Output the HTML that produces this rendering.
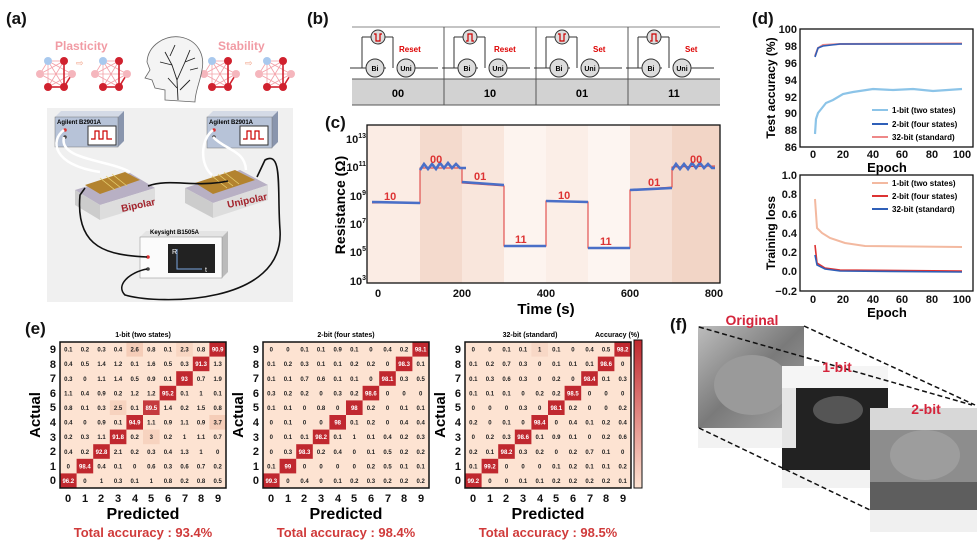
<!DOCTYPE html>
<html><head><meta charset="utf-8"><style>
html,body{margin:0;padding:0;background:#fff;}
svg{display:block;font-family:"Liberation Sans",Arial,sans-serif;}
.m text{font-size:6px;font-weight:bold;text-anchor:middle;fill:#222;}
.m text.w{fill:#fff;}
.tk{font-size:11px;font-weight:bold;fill:#111;}
.lb{font-size:17px;font-weight:bold;fill:#111;}
</style></head><body>
<svg width="980" height="543" viewBox="0 0 980 543" xmlns="http://www.w3.org/2000/svg">
<defs>
<g id="net">
<g stroke="#f3a0a8" stroke-width="0.8">
<line x1="0" y1="0" x2="16" y2="0"/><line x1="0" y1="0" x2="-8" y2="13"/><line x1="0" y1="0" x2="24" y2="13"/><line x1="0" y1="0" x2="0" y2="26"/><line x1="0" y1="0" x2="16" y2="26"/><line x1="16" y1="0" x2="-8" y2="13"/><line x1="16" y1="0" x2="0" y2="26"/><line x1="-8" y1="13" x2="24" y2="13"/><line x1="-8" y1="13" x2="16" y2="26"/><line x1="24" y1="13" x2="0" y2="26"/><line x1="0" y1="26" x2="16" y2="26"/>
</g>
<g stroke="#d0212e" stroke-width="1.6"><line x1="16" y1="0" x2="16" y2="26"/><line x1="24" y1="13" x2="16" y2="26"/><line x1="0" y1="26" x2="16" y2="26"/></g>
<circle cx="0" cy="0" r="4" fill="#a9c9ee"/><circle cx="16" cy="0" r="4" fill="#d0212e"/><circle cx="-8" cy="13" r="4" fill="#f5b6bd"/><circle cx="24" cy="13" r="4" fill="#f5b6bd"/><circle cx="0" cy="26" r="4" fill="#d0212e"/><circle cx="16" cy="26" r="4" fill="#d0212e"/>
</g>
<g id="cell">
<line x1="-40" y1="68" x2="-4" y2="68" stroke="#333" stroke-width="1"/>
<line x1="-28" y1="37" x2="-28" y2="68" stroke="#333"/><line x1="-28" y1="37" x2="3" y2="37" stroke="#333"/><line x1="3" y1="37" x2="3" y2="68" stroke="#333"/>
<circle cx="-12" cy="37" r="7" fill="#ddd" stroke="#333"/>
<circle cx="-15" cy="68" r="9" fill="#ddd" stroke="#333"/>
<circle cx="16" cy="68" r="9" fill="#ddd" stroke="#333"/>
<line x1="25" y1="68" x2="48" y2="68" stroke="#333"/>
<text x="-15" y="71" font-size="7" font-weight="bold" text-anchor="middle">Bi</text>
<text x="16" y="71" font-size="7" font-weight="bold" text-anchor="middle">Uni</text>
</g>
</defs>

<!-- (a) -->
<text x="6" y="24" class="lb">(a)</text>
<text x="55" y="50" font-size="12" font-weight="bold" fill="#f19ba4">Plasticity</text>
<text x="218" y="50" font-size="12" font-weight="bold" fill="#f19ba4">Stability</text>
<use href="#net" x="48" y="61"/><use href="#net" x="103" y="61"/><use href="#net" x="212" y="61"/><use href="#net" x="267" y="61"/>
<text x="76" y="66" font-size="9" fill="#f3a58a">⇨</text><text x="245" y="66" font-size="9" fill="#f3a58a">⇨</text>
<path d="M165 100 L165 90 L155 88 L152 80 L145 78 L150 70 L147 62 C148 45 165 35 180 37 C198 40 205 55 202 70 C200 82 195 92 195 102 Z" fill="#f4f4f4" stroke="#666" stroke-width="0.8"/>
<path d="M178 100 L177 80 L172 65 L165 52 M177 80 L185 62 L190 50 M172 65 L160 62 M185 62 L195 58 M177 88 L168 78 M180 90 L190 80 M170 56 L175 45 M190 70 L198 68" stroke="#222" fill="none" stroke-width="0.9"/>
<rect x="47" y="108" width="246" height="194" fill="#f0f0f0"/>
<polygon points="55,117 118,117 124,111 61,111" fill="#d4dae6"/><polygon points="118,117 124,111 124,141 118,147" fill="#8995ad"/>
<rect x="55" y="117" width="63" height="30" fill="#b7c3d8" stroke="#777" stroke-width="0.5"/>
<text x="57" y="124" font-size="6" font-weight="bold">Agilent B2901A</text>
<rect x="88" y="126" width="28" height="19" fill="#fff" stroke="#333"/><path d="M91 139 h4 v-8 h4 v8 h4 v-8 h4 v8 h5" stroke="#c00" fill="none" stroke-width="1.2"/>
<circle cx="65" cy="130" r="1.8" fill="#d33"/><circle cx="65" cy="137" r="1.8" fill="#444"/>
<polygon points="207,117 272,117 278,111 213,111" fill="#d4dae6"/><polygon points="272,117 278,111 278,142 272,148" fill="#8995ad"/>
<rect x="207" y="117" width="65" height="31" fill="#b7c3d8" stroke="#777" stroke-width="0.5"/>
<text x="209" y="124" font-size="6" font-weight="bold">Agilent B2901A</text>
<rect x="240" y="126" width="28" height="19" fill="#fff" stroke="#333"/><path d="M243 139 h4 v-8 h4 v8 h4 v-8 h4 v8 h5" stroke="#c00" fill="none" stroke-width="1.2"/>
<circle cx="214" cy="130" r="1.8" fill="#d33"/><circle cx="214" cy="137" r="1.8" fill="#444"/>
<g stroke="#fff" stroke-width="2.5" fill="none"><path d="M64 130 C50 140 52 165 100 172"/><path d="M64 137 C58 160 110 160 130 172"/><path d="M213 130 C200 140 200 165 212 175"/><path d="M213 137 C225 150 245 150 246 170"/></g>
<!-- devices -->
<polygon points="75,190 130,173 155,188 100,205" fill="#b8b0c4"/><polygon points="75,190 100,205 100,220 75,205" fill="#ccc"/><polygon points="100,205 155,188 155,203 100,220" fill="#ddd"/>
<polygon points="85,185 125,172 140,180 100,194" fill="#b3832f"/>
<g stroke="#e8d070" stroke-width="0.8"><line x1="100" y1="178" x2="115" y2="190"/><line x1="106" y1="176" x2="121" y2="188"/><line x1="112" y1="174" x2="127" y2="186"/></g>
<text x="122" y="212" font-size="10" font-weight="bold" fill="#a3232c" transform="rotate(-12 122 212)">Bipolar</text>
<polygon points="185,188 240,170 268,185 213,203" fill="#b8b0c4"/><polygon points="185,188 213,203 213,218 185,203" fill="#ccc"/><polygon points="213,203 268,185 268,200 213,218" fill="#ddd"/>
<polygon points="195,183 235,170 255,180 213,194" fill="#b3832f"/>
<g stroke="#e8d070" stroke-width="0.8"><line x1="212" y1="176" x2="227" y2="188"/><line x1="218" y1="174" x2="233" y2="186"/><line x1="224" y1="172" x2="239" y2="184"/></g>
<text x="228" y="208" font-size="10" font-weight="bold" fill="#a3232c" transform="rotate(-12 228 208)">Unipolar</text>
<polygon points="140,237 222,237 228,231 146,231" fill="#e4e4e4"/><polygon points="222,237 228,231 228,272 222,278" fill="#bbb"/>
<rect x="140" y="237" width="82" height="41" fill="#fbfbfb" stroke="#888" stroke-width="0.5"/>
<text x="150" y="234" font-size="6" font-weight="bold">Keysight B1505A</text>
<rect x="168" y="244" width="47" height="29" fill="#222"/><text x="172" y="254" font-size="7" fill="#fff">R</text><path d="M177 249 v20 h25" stroke="#7aa5e0" fill="none"/><text x="205" y="272" font-size="7" fill="#fff">t</text>
<circle cx="148" cy="257" r="1.8" fill="#d33"/><circle cx="148" cy="269" r="1.8" fill="#444"/>
<path d="M147 257 C110 255 75 250 80 195 L85 188" stroke="#111" stroke-width="1.6" fill="none"/>
<path d="M147 269 C130 272 115 285 125 295 C160 305 285 305 280 230 C277 190 283 150 265 160 L257 177" stroke="#111" stroke-width="1.6" fill="none"/>
<path d="M148 186 C170 178 195 188 228 181" stroke="#111" stroke-width="1.6" fill="none"/>

<!-- (b) -->
<text x="307" y="24" class="lb">(b)</text>
<line x1="352" y1="27" x2="720" y2="27" stroke="#888"/>
<rect x="352" y="79" width="368" height="26" fill="#d2d2d2"/>
<line x1="352" y1="79" x2="720" y2="79" stroke="#555"/><line x1="352" y1="105" x2="720" y2="105" stroke="#555"/>
<g stroke="#555"><line x1="444" y1="27" x2="444" y2="105"/><line x1="536" y1="27" x2="536" y2="105"/><line x1="628" y1="27" x2="628" y2="105"/></g>
<use href="#cell" x="390" y="0"/><use href="#cell" x="482" y="0"/><use href="#cell" x="574" y="0"/><use href="#cell" x="666" y="0"/>
<g stroke="#c00" stroke-width="1.2" fill="none">
<path d="M374 34 h2 v7 h4 v-7 h2"/><path d="M466 41 h2 v-7 h4 v7 h2"/><path d="M558 34 h2 v7 h4 v-7 h2"/><path d="M650 41 h2 v-7 h4 v7 h2"/></g>
<g font-size="8" font-weight="bold" fill="#d00"><text x="399" y="52">Reset</text><text x="494" y="52">Reset</text><text x="593" y="52">Set</text><text x="685" y="52">Set</text></g>
<g font-size="11" font-weight="bold" text-anchor="middle"><text x="398" y="97">00</text><text x="490" y="97">10</text><text x="582" y="97">01</text><text x="674" y="97">11</text></g>

<!-- (c) -->
<text x="325" y="128" class="lb">(c)</text>
<rect x="378" y="125" width="42" height="158" fill="#fbece4"/>
<rect x="420" y="125" width="42" height="158" fill="#f4dacd"/>
<rect x="462" y="125" width="42" height="158" fill="#f9e6dc"/>
<rect x="504" y="125" width="42" height="158" fill="#fdf4ef"/>
<rect x="546" y="125" width="42" height="158" fill="#fbeee7"/>
<rect x="588" y="125" width="42" height="158" fill="#fdf5f1"/>
<rect x="630" y="125" width="42" height="158" fill="#f6e0d5"/>
<rect x="672" y="125" width="48" height="158" fill="#f2d5c6"/>
<rect x="367" y="125" width="11" height="158" fill="#fbece4"/>
<rect x="367" y="125" width="353" height="158" fill="none" stroke="#111" stroke-width="1.3"/>
<path d="M372 203 L420 203 L420 168 L462 168 L462 183 L504 186 L504 246 L546 246 L546 201 L588 202 L588 248 L630 248 L630 190 L672 187 L672 167 L715 166" stroke="#d33" fill="none" stroke-width="1"/>
<g stroke="#4a6fc7" stroke-width="2.6" fill="none">
<path d="M372 202 L420 203"/><path d="M420 170 l4 -6 l4 5 l4 -5 l4 5 l4 -6 l4 5 l4 -5 l4 5 l4 -4 l4 4 l6 0"/><path d="M462 182 L504 185"/><path d="M504 246 L546 246"/><path d="M546 201 L588 202"/><path d="M588 248 L630 248"/><path d="M630 190 L672 188"/><path d="M672 170 l4 -6 l4 5 l4 -5 l4 5 l4 -6 l4 5 l4 -5 l4 5 l4 -4 l4 4 l3 0"/></g>
<g font-size="11" font-weight="bold" fill="#d33"><text x="384" y="200">10</text><text x="430" y="163">00</text><text x="474" y="180">01</text><text x="515" y="243">11</text><text x="558" y="199">10</text><text x="600" y="245">11</text><text x="648" y="186">01</text><text x="690" y="163">00</text></g>
<g class="tk" text-anchor="end"><text x="366" y="143">10<tspan font-size="7" dy="-5">13</tspan></text><text x="366" y="171">10<tspan font-size="7" dy="-5">11</tspan></text><text x="366" y="200">10<tspan font-size="7" dy="-5">9</tspan></text><text x="366" y="228">10<tspan font-size="7" dy="-5">7</tspan></text><text x="366" y="256">10<tspan font-size="7" dy="-5">5</tspan></text><text x="366" y="285">10<tspan font-size="7" dy="-5">3</tspan></text></g>
<g class="tk" text-anchor="middle"><text x="378" y="297">0</text><text x="462" y="297">200</text><text x="546" y="297">400</text><text x="630" y="297">600</text><text x="714" y="297">800</text></g>
<text x="546" y="314" font-size="15" font-weight="bold" text-anchor="middle">Time (s)</text>
<text x="345" y="205" font-size="14" font-weight="bold" text-anchor="middle" transform="rotate(-90 345 205)">Resistance (Ω)</text>

<!-- (d) -->
<text x="752" y="24" class="lb">(d)</text>
<rect x="800" y="29" width="173" height="118" fill="#fff" stroke="#111" stroke-width="1.3"/>
<g class="tk" font-size="9" text-anchor="end"><text x="797" y="33">100</text><text x="797" y="50">98</text><text x="797" y="67">96</text><text x="797" y="84">94</text><text x="797" y="101">92</text><text x="797" y="117">90</text><text x="797" y="134">88</text><text x="797" y="151">86</text></g>
<g class="tk" font-size="9" text-anchor="middle"><text x="813" y="158">0</text><text x="843" y="158">20</text><text x="873" y="158">40</text><text x="902" y="158">60</text><text x="932" y="158">80</text><text x="962" y="158">100</text></g>
<text x="887" y="172" font-size="13" font-weight="bold" text-anchor="middle">Epoch</text>
<text x="775" y="88" font-size="12" font-weight="bold" text-anchor="middle" transform="rotate(-90 775 88)">Test accuracy (%)</text>
<path d="M815 134 L816 119 L818 113 L822 108 L826 103 L833 100 L843 94 L853 92 L873 89 L893 90 L913 89 L933 91 L962 89" stroke="#8cc4e8" stroke-width="2.2" fill="none"/>
<path d="M815 56 L818 48 L823 45 L840 44 L962 43.5" stroke="#e88" stroke-width="2" fill="none"/>
<path d="M815 57 L818 48 L823 46 L840 44 L962 44" stroke="#2f5fb8" stroke-width="1.6" fill="none"/>
<g font-size="8" font-weight="bold"><line x1="872" y1="110" x2="888" y2="110" stroke="#8cc4e8" stroke-width="2"/><text x="892" y="113">1-bit (two states)</text><line x1="872" y1="124" x2="888" y2="124" stroke="#2f5fb8" stroke-width="2"/><text x="892" y="127">2-bit (four states)</text><line x1="872" y1="137" x2="888" y2="137" stroke="#e88" stroke-width="2"/><text x="892" y="140">32-bit (standard)</text></g>
<rect x="800" y="175" width="173" height="116" fill="#fff" stroke="#111" stroke-width="1.3"/>
<g class="tk" font-size="9" text-anchor="end"><text x="797" y="179">1.0</text><text x="797" y="198">0.8</text><text x="797" y="218">0.6</text><text x="797" y="237">0.4</text><text x="797" y="256">0.2</text><text x="797" y="275">0.0</text><text x="797" y="295">−0.2</text></g>
<g class="tk" font-size="9" text-anchor="middle"><text x="813" y="303">0</text><text x="843" y="303">20</text><text x="873" y="303">40</text><text x="902" y="303">60</text><text x="932" y="303">80</text><text x="962" y="303">100</text></g>
<text x="887" y="317" font-size="13" font-weight="bold" text-anchor="middle">Epoch</text>
<text x="775" y="233" font-size="12" font-weight="bold" text-anchor="middle" transform="rotate(-90 775 233)">Training loss</text>
<path d="M815 199 L817 228 L822 233 L830 238 L845 243 L865 246 L962 247" stroke="#f3b9a0" stroke-width="2" fill="none"/>
<path d="M815 245 L817 263 L825 268 L840 270 L962 271" stroke="#d33" stroke-width="1.6" fill="none"/>
<path d="M815 255 L817 265 L825 269 L840 271 L962 272" stroke="#2f5fb8" stroke-width="1.6" fill="none"/>
<g font-size="8" font-weight="bold"><line x1="872" y1="183" x2="888" y2="183" stroke="#f3b9a0" stroke-width="2"/><text x="892" y="186">1-bit (two states)</text><line x1="872" y1="196" x2="888" y2="196" stroke="#d33" stroke-width="2"/><text x="892" y="199">2-bit (four states)</text><line x1="872" y1="209" x2="888" y2="209" stroke="#2f5fb8" stroke-width="2"/><text x="892" y="212">32-bit (standard)</text></g>

<!-- (e) -->
<text x="25" y="334" class="lb">(e)</text>
<text x="143" y="337" font-size="7" font-weight="bold" text-anchor="middle">1-bit (two states)</text>
<text x="346" y="337" font-size="7" font-weight="bold" text-anchor="middle">2-bit (four states)</text>
<text x="530" y="337" font-size="7" font-weight="bold" text-anchor="middle">32-bit (standard)</text>
<text x="595" y="337" font-size="7" font-weight="bold">Accuracy (%)</text>
<defs><linearGradient id="cb" x1="0" y1="0" x2="0" y2="1"><stop offset="0" stop-color="#c0282f"/><stop offset="0.6" stop-color="#e79a92"/><stop offset="1" stop-color="#fde3d2"/></linearGradient></defs>
<rect x="634" y="340" width="8" height="148" fill="url(#cb)" stroke="#111"/>

<!-- M1 -->
<g class="m" transform="translate(60,342)">
<rect width="166" height="146" fill="#fde3d2"/>
<rect x="66.4" y="0" width="16.6" height="14.6" fill="#f5cdb8"/><rect x="116.2" y="0" width="16.6" height="14.6" fill="#f8d6c2"/><rect x="149.4" y="73" width="16.6" height="14.6" fill="#f5cdb8"/><rect x="49.8" y="58.4" width="16.6" height="14.6" fill="#f7d3bf"/><rect x="83" y="87.6" width="16.6" height="14.6" fill="#f7d3bf"/>
<rect x="149.4" y="0" width="16.6" height="14.6" fill="#c0282f"/><rect x="132.8" y="14.6" width="16.6" height="14.6" fill="#c0282f"/><rect x="116.2" y="29.2" width="16.6" height="14.6" fill="#c0282f"/><rect x="99.6" y="43.8" width="16.6" height="14.6" fill="#c0282f"/><rect x="83" y="58.4" width="16.6" height="14.6" fill="#c53a3f"/><rect x="66.4" y="73" width="16.6" height="14.6" fill="#c0282f"/><rect x="49.8" y="87.6" width="16.6" height="14.6" fill="#c0282f"/><rect x="33.2" y="102.2" width="16.6" height="14.6" fill="#c0282f"/><rect x="16.6" y="116.8" width="16.6" height="14.6" fill="#c0282f"/><rect x="0" y="131.4" width="16.6" height="14.6" fill="#c0282f"/>
<rect width="166" height="146" fill="none" stroke="#111" stroke-width="1.5"/>
<g transform="translate(0,9.6)"><text x="8.3">0.1</text><text x="24.9">0.2</text><text x="41.5">0.3</text><text x="58.1">0.4</text><text x="74.7">2.6</text><text x="91.3">0.8</text><text x="107.9">0.1</text><text x="124.5">2.3</text><text x="141.1">0.8</text><text x="157.7" class="w">90.9</text></g>
<g transform="translate(0,24.2)"><text x="8.3">0.4</text><text x="24.9">0.5</text><text x="41.5">1.4</text><text x="58.1">1.2</text><text x="74.7">0.1</text><text x="91.3">1.6</text><text x="107.9">0.5</text><text x="124.5">0.3</text><text x="141.1" class="w">91.3</text><text x="157.7">1.3</text></g>
<g transform="translate(0,38.8)"><text x="8.3">0.3</text><text x="24.9">0</text><text x="41.5">1.1</text><text x="58.1">1.4</text><text x="74.7">0.5</text><text x="91.3">0.9</text><text x="107.9">0.1</text><text x="124.5" class="w">93</text><text x="141.1">0.7</text><text x="157.7">1.9</text></g>
<g transform="translate(0,53.4)"><text x="8.3">1.1</text><text x="24.9">0.4</text><text x="41.5">0.9</text><text x="58.1">0.2</text><text x="74.7">1.2</text><text x="91.3">1.2</text><text x="107.9" class="w">95.2</text><text x="124.5">0.1</text><text x="141.1">1</text><text x="157.7">0.1</text></g>
<g transform="translate(0,68)"><text x="8.3">0.8</text><text x="24.9">0.1</text><text x="41.5">0.3</text><text x="58.1">2.5</text><text x="74.7">0.1</text><text x="91.3" class="w">89.5</text><text x="107.9">1.4</text><text x="124.5">0.2</text><text x="141.1">1.5</text><text x="157.7">0.8</text></g>
<g transform="translate(0,82.6)"><text x="8.3">0.4</text><text x="24.9">0</text><text x="41.5">0.9</text><text x="58.1">0.1</text><text x="74.7" class="w">94.9</text><text x="91.3">1.1</text><text x="107.9">0.9</text><text x="124.5">1.1</text><text x="141.1">0.9</text><text x="157.7">3.7</text></g>
<g transform="translate(0,97.2)"><text x="8.3">0.2</text><text x="24.9">0.3</text><text x="41.5">1.1</text><text x="58.1" class="w">91.8</text><text x="74.7">0.2</text><text x="91.3">3</text><text x="107.9">0.2</text><text x="124.5">1</text><text x="141.1">1.1</text><text x="157.7">0.7</text></g>
<g transform="translate(0,111.8)"><text x="8.3">0.4</text><text x="24.9">0.2</text><text x="41.5" class="w">92.8</text><text x="58.1">2.1</text><text x="74.7">0.2</text><text x="91.3">0.3</text><text x="107.9">0.4</text><text x="124.5">1.3</text><text x="141.1">1</text><text x="157.7">0</text></g>
<g transform="translate(0,126.4)"><text x="8.3">0</text><text x="24.9" class="w">98.4</text><text x="41.5">0.4</text><text x="58.1">0.1</text><text x="74.7">0</text><text x="91.3">0.6</text><text x="107.9">0.3</text><text x="124.5">0.6</text><text x="141.1">0.7</text><text x="157.7">0.2</text></g>
<g transform="translate(0,141)"><text x="8.3" class="w">96.2</text><text x="24.9">0</text><text x="41.5">1</text><text x="58.1">0.3</text><text x="74.7">0.1</text><text x="91.3">1</text><text x="107.9">0.8</text><text x="124.5">0.2</text><text x="141.1">0.8</text><text x="157.7">0.5</text></g>
</g>

<!-- M2 -->
<g class="m" transform="translate(263,342)">
<rect width="166" height="146" fill="#fde3d2"/>
<rect x="149.4" y="0" width="16.6" height="14.6" fill="#c0282f"/><rect x="132.8" y="14.6" width="16.6" height="14.6" fill="#c0282f"/><rect x="116.2" y="29.2" width="16.6" height="14.6" fill="#c0282f"/><rect x="99.6" y="43.8" width="16.6" height="14.6" fill="#c0282f"/><rect x="83" y="58.4" width="16.6" height="14.6" fill="#c0282f"/><rect x="66.4" y="73" width="16.6" height="14.6" fill="#c0282f"/><rect x="49.8" y="87.6" width="16.6" height="14.6" fill="#c0282f"/><rect x="33.2" y="102.2" width="16.6" height="14.6" fill="#c0282f"/><rect x="16.6" y="116.8" width="16.6" height="14.6" fill="#c0282f"/><rect x="0" y="131.4" width="16.6" height="14.6" fill="#c0282f"/>
<rect width="166" height="146" fill="none" stroke="#111" stroke-width="1.5"/>
<g transform="translate(0,9.6)"><text x="8.3">0</text><text x="24.9">0</text><text x="41.5">0.1</text><text x="58.1">0.1</text><text x="74.7">0.9</text><text x="91.3">0.1</text><text x="107.9">0</text><text x="124.5">0.4</text><text x="141.1">0.2</text><text x="157.7" class="w">98.1</text></g>
<g transform="translate(0,24.2)"><text x="8.3">0.1</text><text x="24.9">0.2</text><text x="41.5">0.3</text><text x="58.1">0.1</text><text x="74.7">0.1</text><text x="91.3">0.2</text><text x="107.9">0.2</text><text x="124.5">0</text><text x="141.1" class="w">98.3</text><text x="157.7">0.1</text></g>
<g transform="translate(0,38.8)"><text x="8.3">0.1</text><text x="24.9">0.1</text><text x="41.5">0.7</text><text x="58.1">0.6</text><text x="74.7">0.1</text><text x="91.3">0.1</text><text x="107.9">0</text><text x="124.5" class="w">98.1</text><text x="141.1">0.3</text><text x="157.7">0.5</text></g>
<g transform="translate(0,53.4)"><text x="8.3">0.3</text><text x="24.9">0.2</text><text x="41.5">0.2</text><text x="58.1">0</text><text x="74.7">0.3</text><text x="91.3">0.2</text><text x="107.9" class="w">98.6</text><text x="124.5">0</text><text x="141.1">0</text><text x="157.7">0</text></g>
<g transform="translate(0,68)"><text x="8.3">0.1</text><text x="24.9">0.1</text><text x="41.5">0</text><text x="58.1">0.8</text><text x="74.7">0</text><text x="91.3" class="w">98</text><text x="107.9">0.2</text><text x="124.5">0</text><text x="141.1">0.1</text><text x="157.7">0.1</text></g>
<g transform="translate(0,82.6)"><text x="8.3">0</text><text x="24.9">0.1</text><text x="41.5">0</text><text x="58.1">0</text><text x="74.7" class="w">98</text><text x="91.3">0.1</text><text x="107.9">0.2</text><text x="124.5">0</text><text x="141.1">0.4</text><text x="157.7">0.4</text></g>
<g transform="translate(0,97.2)"><text x="8.3">0</text><text x="24.9">0.1</text><text x="41.5">0.1</text><text x="58.1" class="w">98.2</text><text x="74.7">0.1</text><text x="91.3">1</text><text x="107.9">0.1</text><text x="124.5">0.4</text><text x="141.1">0.2</text><text x="157.7">0.3</text></g>
<g transform="translate(0,111.8)"><text x="8.3">0</text><text x="24.9">0.3</text><text x="41.5" class="w">98.3</text><text x="58.1">0.2</text><text x="74.7">0.4</text><text x="91.3">0</text><text x="107.9">0.1</text><text x="124.5">0.5</text><text x="141.1">0.2</text><text x="157.7">0.2</text></g>
<g transform="translate(0,126.4)"><text x="8.3">0.1</text><text x="24.9" class="w">99</text><text x="41.5">0</text><text x="58.1">0</text><text x="74.7">0</text><text x="91.3">0</text><text x="107.9">0.2</text><text x="124.5">0.5</text><text x="141.1">0.1</text><text x="157.7">0.1</text></g>
<g transform="translate(0,141)"><text x="8.3" class="w">99.3</text><text x="24.9">0</text><text x="41.5">0.4</text><text x="58.1">0</text><text x="74.7">0.1</text><text x="91.3">0.2</text><text x="107.9">0.3</text><text x="124.5">0.2</text><text x="141.1">0.2</text><text x="157.7">0.2</text></g>
</g>

<!-- M3 -->
<g class="m" transform="translate(465,342)">
<rect width="166" height="146" fill="#fde3d2"/>
<rect x="66.4" y="0" width="16.6" height="14.6" fill="#f8d8c6"/>
<rect x="149.4" y="0" width="16.6" height="14.6" fill="#c0282f"/><rect x="132.8" y="14.6" width="16.6" height="14.6" fill="#c0282f"/><rect x="116.2" y="29.2" width="16.6" height="14.6" fill="#c0282f"/><rect x="99.6" y="43.8" width="16.6" height="14.6" fill="#c0282f"/><rect x="83" y="58.4" width="16.6" height="14.6" fill="#c0282f"/><rect x="66.4" y="73" width="16.6" height="14.6" fill="#c0282f"/><rect x="49.8" y="87.6" width="16.6" height="14.6" fill="#c0282f"/><rect x="33.2" y="102.2" width="16.6" height="14.6" fill="#c0282f"/><rect x="16.6" y="116.8" width="16.6" height="14.6" fill="#c0282f"/><rect x="0" y="131.4" width="16.6" height="14.6" fill="#c0282f"/>
<rect width="166" height="146" fill="none" stroke="#111" stroke-width="1.5"/>
<g transform="translate(0,9.6)"><text x="8.3">0</text><text x="24.9">0</text><text x="41.5">0.1</text><text x="58.1">0.1</text><text x="74.7">1</text><text x="91.3">0.1</text><text x="107.9">0</text><text x="124.5">0.4</text><text x="141.1">0.5</text><text x="157.7" class="w">98.2</text></g>
<g transform="translate(0,24.2)"><text x="8.3">0.1</text><text x="24.9">0.2</text><text x="41.5">0.7</text><text x="58.1">0.3</text><text x="74.7">0</text><text x="91.3">0.1</text><text x="107.9">0.1</text><text x="124.5">0.1</text><text x="141.1" class="w">98.6</text><text x="157.7">0</text></g>
<g transform="translate(0,38.8)"><text x="8.3">0.1</text><text x="24.9">0.3</text><text x="41.5">0.6</text><text x="58.1">0.3</text><text x="74.7">0</text><text x="91.3">0.2</text><text x="107.9">0</text><text x="124.5" class="w">98.4</text><text x="141.1">0.1</text><text x="157.7">0.3</text></g>
<g transform="translate(0,53.4)"><text x="8.3">0.1</text><text x="24.9">0.1</text><text x="41.5">0.1</text><text x="58.1">0</text><text x="74.7">0.2</text><text x="91.3">0.2</text><text x="107.9" class="w">98.5</text><text x="124.5">0</text><text x="141.1">0</text><text x="157.7">0</text></g>
<g transform="translate(0,68)"><text x="8.3">0</text><text x="24.9">0</text><text x="41.5">0</text><text x="58.1">0.3</text><text x="74.7">0</text><text x="91.3" class="w">98.1</text><text x="107.9">0.2</text><text x="124.5">0</text><text x="141.1">0</text><text x="157.7">0.2</text></g>
<g transform="translate(0,82.6)"><text x="8.3">0.2</text><text x="24.9">0</text><text x="41.5">0.1</text><text x="58.1">0</text><text x="74.7" class="w">98.4</text><text x="91.3">0</text><text x="107.9">0.4</text><text x="124.5">0.1</text><text x="141.1">0.2</text><text x="157.7">0.4</text></g>
<g transform="translate(0,97.2)"><text x="8.3">0</text><text x="24.9">0.2</text><text x="41.5">0.3</text><text x="58.1" class="w">98.6</text><text x="74.7">0.1</text><text x="91.3">0.9</text><text x="107.9">0.1</text><text x="124.5">0</text><text x="141.1">0.2</text><text x="157.7">0.6</text></g>
<g transform="translate(0,111.8)"><text x="8.3">0.2</text><text x="24.9">0.1</text><text x="41.5" class="w">98.2</text><text x="58.1">0.3</text><text x="74.7">0.2</text><text x="91.3">0</text><text x="107.9">0.2</text><text x="124.5">0.7</text><text x="141.1">0.1</text><text x="157.7">0</text></g>
<g transform="translate(0,126.4)"><text x="8.3">0.1</text><text x="24.9" class="w">99.2</text><text x="41.5">0</text><text x="58.1">0</text><text x="74.7">0</text><text x="91.3">0.1</text><text x="107.9">0.2</text><text x="124.5">0.1</text><text x="141.1">0.1</text><text x="157.7">0.2</text></g>
<g transform="translate(0,141)"><text x="8.3" class="w">99.2</text><text x="24.9">0</text><text x="41.5">0</text><text x="58.1">0.1</text><text x="74.7">0.1</text><text x="91.3">0.2</text><text x="107.9">0.2</text><text x="124.5">0.2</text><text x="141.1">0.2</text><text x="157.7">0.1</text></g>
</g>

<!-- matrix axes -->
<g id="axes1" class="tk" font-size="12">
<g text-anchor="end"><text x="56" y="353">9</text><text x="56" y="368">8</text><text x="56" y="382">7</text><text x="56" y="397">6</text><text x="56" y="411">5</text><text x="56" y="426">4</text><text x="56" y="441">3</text><text x="56" y="455">2</text><text x="56" y="470">1</text><text x="56" y="484">0</text></g>
<g text-anchor="middle"><text x="68" y="502">0</text><text x="85" y="502">1</text><text x="101" y="502">2</text><text x="118" y="502">3</text><text x="135" y="502">4</text><text x="151" y="502">5</text><text x="168" y="502">6</text><text x="185" y="502">7</text><text x="201" y="502">8</text><text x="218" y="502">9</text></g>
</g>
<use href="#axes1" x="203"/><use href="#axes1" x="405"/>
<g font-size="16" font-weight="bold" text-anchor="middle"><text x="143" y="519">Predicted</text><text x="346" y="519">Predicted</text><text x="548" y="519">Predicted</text></g>
<g font-size="15" font-weight="bold"><text x="40" y="415" text-anchor="middle" transform="rotate(-90 40 415)">Actual</text><text x="243" y="415" text-anchor="middle" transform="rotate(-90 243 415)">Actual</text><text x="445" y="415" text-anchor="middle" transform="rotate(-90 445 415)">Actual</text></g>
<g font-size="13" font-weight="bold" fill="#d03a3a" text-anchor="middle"><text x="143" y="537">Total accuracy : 93.4%</text><text x="346" y="537">Total accuracy : 98.4%</text><text x="548" y="537">Total accuracy : 98.5%</text></g>

<!-- (f) -->
<text x="670" y="330" class="lb">(f)</text>
<defs><linearGradient id="g1" x1="0" y1="0" x2="1" y2="1"><stop offset="0" stop-color="#bdbdbd"/><stop offset="0.5" stop-color="#7a7a7a"/><stop offset="1" stop-color="#a5a5a5"/></linearGradient></defs>
<rect x="698" y="326" width="106" height="102" fill="url(#g1)"/>
<ellipse cx="752" cy="385" rx="38" ry="30" fill="#9a9a9a"/>
<rect x="698" y="428" width="106" height="20" fill="#f2f2f2"/>
<rect x="782" y="366" width="106" height="104" fill="#222"/>
<rect x="782" y="366" width="106" height="22" fill="#f5f5f5"/><rect x="782" y="388" width="14" height="60" fill="#e5e5e5"/>
<ellipse cx="838" cy="410" rx="25" ry="14" fill="#555"/>
<rect x="782" y="470" width="106" height="18" fill="#f2f2f2"/>
<rect x="870" y="408" width="107" height="102" fill="#8d8d8d"/><rect x="870" y="408" width="107" height="22" fill="#d8d8d8"/><ellipse cx="925" cy="455" rx="35" ry="25" fill="#9d9d9d"/><rect x="870" y="482" width="107" height="28" fill="#5e5e5e"/>
<rect x="870" y="510" width="107" height="22" fill="#f0f0f0"/>
<g stroke="#111" stroke-width="1.5" stroke-dasharray="5,3" fill="none"><line x1="699" y1="327" x2="972" y2="405"/><line x1="804" y1="326" x2="975" y2="405"/><line x1="699" y1="428" x2="870" y2="510"/></g>
<g font-size="14" font-weight="bold" fill="#d4243b" text-anchor="middle"><text x="752" y="325">Original</text><text x="837" y="372">1-bit</text><text x="926" y="414">2-bit</text></g>
</svg>
</body></html>
